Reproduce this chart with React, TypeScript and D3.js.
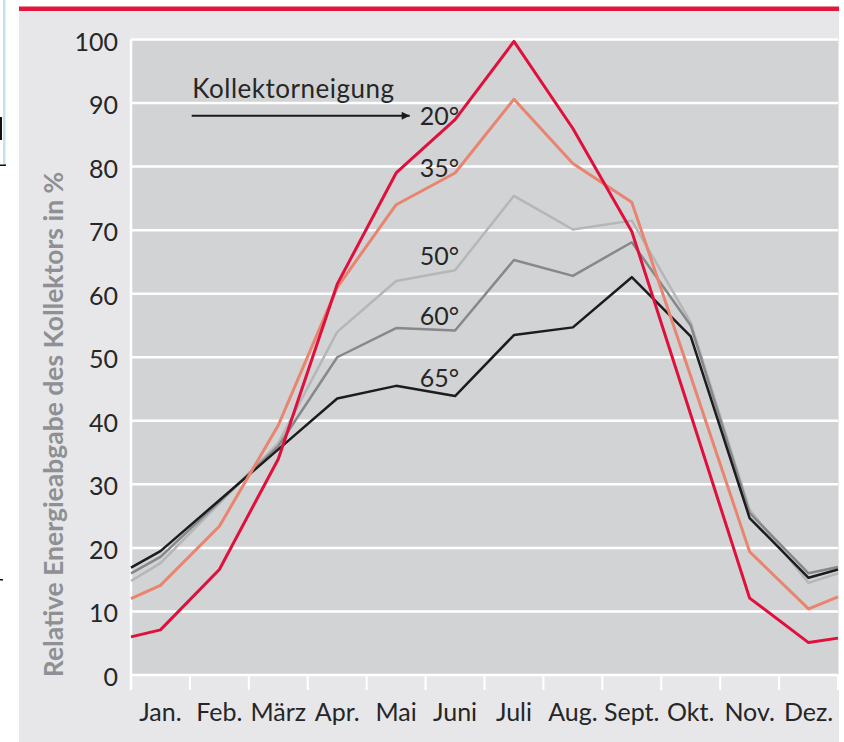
import React, { useEffect, useState } from 'react';
import * as d3 from 'd3';

// Monatsachse und Y-Ticks
const months = ['Jan.', 'Feb.', 'März', 'Apr.', 'Mai', 'Juni', 'Juli', 'Aug.', 'Sept.', 'Okt.', 'Nov.', 'Dez.'];
const yTicks = [0, 10, 20, 30, 40, 50, 60, 70, 80, 90, 100];

// Werte je Neigung: Wert am linken Rand, 12 Monate, Wert am rechten Rand
const tilt20 = [6.0, 7.1, 16.6, 34, 61.5, 79, 87.4, 99.7, 86, 69.8, 41, 12.1, 5.1, 5.8];
const tilt35 = [12.0, 14.1, 23.4, 39.3, 61, 74, 79, 90.6, 80.5, 74.4, 47, 19.4, 10.4, 12.3];
const tilt50 = [14.8, 17.6, 27, 36.5, 54, 62, 63.7, 75.4, 70.1, 71.5, 55.5, 26, 14.5, 16];
const tilt60 = [16, 18.6, 27.3, 36, 50, 54.6, 54.2, 65.3, 62.8, 68.1, 55, 25.5, 16, 17];
const tilt65 = [16.9, 19.5, 27.5, 35.5, 43.5, 45.5, 43.9, 53.5, 54.7, 62.6, 53.3, 24.7, 15.3, 16.6];

// Beschriftungen an den Kurven (Position in Monatsindex / Prozent)
const curveLabels = ['20°', '35°', '50°', '60°', '65°'];
const curveLabelValues = [86.5, 78.4, 64.5, 55, 45.3];

const W = 844;
const H = 742;

const App: React.FC = () => {
  const [svgRef, setSvgRef] = useState<SVGSVGElement | null>(null);

  useEffect(() => {
    if (!svgRef) return;
    const svg = d3.select(svgRef);
    svg.selectAll('*').remove();

    const left = 131, right = 838, top = 39.5, bottom = 675;
    const font = 'Lato, "Open Sans", sans-serif';

    const x = d3.scaleBand<string>().domain(months).range([left, right]).padding(0);
    const xLin = d3.scaleLinear().domain([0, 12]).range([left, right]);
    const y = d3.scaleLinear().domain([0, 100]).range([bottom, top]);
    const bw = x.bandwidth();
    const px = (i: number) =>
      i === 0 ? xLin(0) : i === months.length + 1 ? xLin(12) : (x(months[i - 1]) as number) + bw / 2;

    // Hintergrund
    svg.append('rect').attr('width', W).attr('height', H).attr('fill', '#fff');
    svg.append('rect').attr('x', 3).attr('y', 0).attr('width', 2.5).attr('height', 165).attr('fill', '#c3e2ea');
    svg.append('rect').attr('x', 0).attr('y', 117).attr('width', 2).attr('height', 23).attr('fill', '#111');
    svg.append('rect').attr('x', 0).attr('y', 164.5).attr('width', 6).attr('height', 1.5).attr('fill', '#111');
    svg.append('rect').attr('x', 0).attr('y', 579).attr('width', 3).attr('height', 1.5).attr('fill', '#111');

    svg.append('rect').attr('x', 19).attr('y', 11).attr('width', 820).attr('height', H - 11).attr('fill', '#e7e7e9');
    svg.append('rect').attr('x', 19).attr('y', 6.5).attr('width', 820).attr('height', 4.5).attr('fill', '#e2173d');
    svg.append('rect').attr('x', left).attr('y', top).attr('width', right - left).attr('height', bottom - top).attr('fill', '#d2d3d5');

    // Gitterlinien
    svg.append('g').selectAll('line').data(yTicks).enter().append('line')
      .attr('x1', left).attr('x2', right)
      .attr('y1', d => y(d)).attr('y2', d => y(d))
      .attr('stroke', '#fff').attr('stroke-width', 2.5);

    svg.append('line').attr('x1', left).attr('x2', left).attr('y1', top).attr('y2', 690)
      .attr('stroke', '#fff').attr('stroke-width', 2.5);

    const bounds = [...months.map(m => x(m) as number), right];
    svg.append('g').selectAll('line').data(bounds).enter().append('line')
      .attr('x1', d => d).attr('x2', d => d).attr('y1', bottom).attr('y2', 690)
      .attr('stroke', '#fff').attr('stroke-width', 2);

    // Achsenbeschriftungen
    svg.append('g').selectAll('text').data(yTicks).enter().append('text')
      .attr('x', 118).attr('y', d => y(d) + 1)
      .attr('text-anchor', 'end').attr('dominant-baseline', 'central')
      .style('font-family', font).style('font-size', '25px').attr('fill', '#262626')
      .text(d => d);

    svg.append('g').selectAll('text').data(months).enter().append('text')
      .attr('x', d => (x(d) as number) + bw / 2).attr('y', 721)
      .attr('text-anchor', 'middle')
      .style('font-family', font).style('font-size', '25px').attr('fill', '#262626')
      .text(d => d);

    svg.append('text')
      .attr('transform', `translate(63,${(172 + 677) / 2}) rotate(-90)`)
      .attr('text-anchor', 'middle')
      .style('font-family', font).style('font-size', '26.5px').style('font-weight', 'bold')
      .attr('fill', '#8e9094')
      .text('Relative Energieabgabe des Kollektors in %');

    // Kurven
    const series = [
      { values: tilt50, color: '#b5b6b8', width: 2.5 },
      { values: tilt60, color: '#87888a', width: 2.5 },
      { values: tilt65, color: '#1c1c1c', width: 2.5 },
      { values: tilt35, color: '#e9846f', width: 3 },
      { values: tilt20, color: '#e0103c', width: 3 },
    ];
    const line = d3.line<number>().x((_, i) => px(i)).y(d => y(d));
    svg.append('g').selectAll('path').data(series).enter().append('path')
      .attr('d', d => line(d.values) as string)
      .attr('fill', 'none')
      .attr('stroke', d => d.color)
      .attr('stroke-width', d => d.width)
      .attr('stroke-linejoin', 'round');

    // Kollektorneigung-Pfeil
    const defs = svg.append('defs');
    defs.append('marker').attr('id', 'arrow').attr('viewBox', '0 0 10 10')
      .attr('refX', 10).attr('refY', 5).attr('markerWidth', 6).attr('markerHeight', 4)
      .attr('markerUnits', 'strokeWidth').attr('orient', 'auto')
      .append('path').attr('d', 'M0,0 L10,5 L0,10 z').attr('fill', '#1a1a1a');

    svg.append('text').attr('x', xLin(1.04)).attr('y', y(90.8))
      .style('font-family', font).style('font-size', '26px').style('letter-spacing', '0.5px')
      .attr('fill', '#262626')
      .text('Kollektorneigung');
    svg.append('line').attr('x1', xLin(1.03)).attr('x2', xLin(4.73))
      .attr('y1', y(88)).attr('y2', y(88))
      .attr('stroke', '#1a1a1a').attr('stroke-width', 2).attr('marker-end', 'url(#arrow)');

    svg.append('g').selectAll('text').data(curveLabels).enter().append('text')
      .attr('x', xLin(4.9)).attr('y', (_, i) => y(curveLabelValues[i]))
      .style('font-family', font).style('font-size', '25px').attr('fill', '#262626')
      .text(d => d);
  }, [svgRef]);

  return (
    <svg ref={setSvgRef} width={W} height={H} style={{ position: 'absolute', left: 0, top: 0 }} />
  );
};

export default App;
